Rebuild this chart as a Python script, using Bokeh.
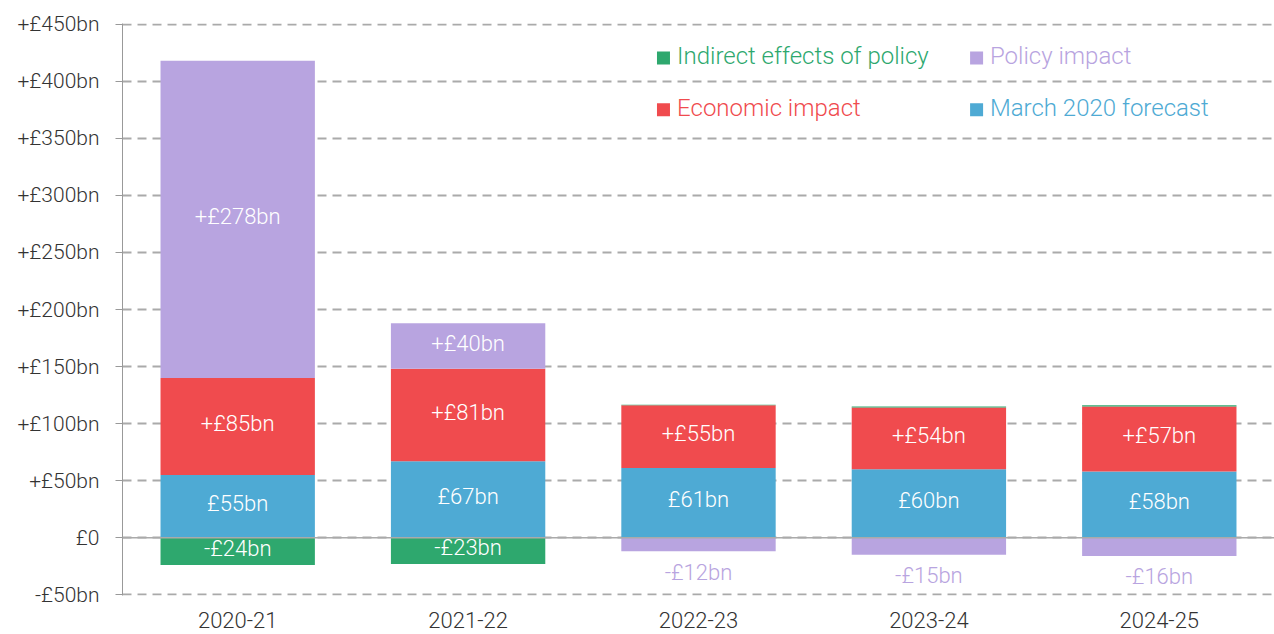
from bokeh.plotting import figure
from bokeh.models import (FactorRange, Range1d, FixedTicker, CustomJSTickFormatter,
                          Span, ColumnDataSource)
from bokeh.core.properties import value
from bokeh.embed import file_html
from bokeh.resources import INLINE

years = ["2020-21", "2021-22", "2022-23", "2023-24", "2024-25"]
march_forecast = [55, 67, 61, 60, 58]
economic_impact = [85, 81, 55, 54, 57]
policy_impact = [278, 40, -12, -15, -16]
indirect_effects = [-24, -23, 0.5, 1, 1]

series_names = ["March 2020 forecast", "Economic impact", "Policy impact", "Indirect effects of policy"]
series_values = [march_forecast, economic_impact, policy_impact, indirect_effects]
series_colors = ["#4eaad4", "#f04b4e", "#b8a4e0", "#2ea86e"]
series_plus = [False, True, True, True]

y_ticks = [-50, 0, 50, 100, 150, 200, 250, 300, 350, 400, 450]

FONT_NAME = "'Roboto Light', Roboto"
FONT = value(FONT_NAME)

p = figure(x_range=FactorRange(*years, range_padding=0), y_range=Range1d(-50.7, 450.7),
           width=1274, height=634, output_backend="svg", toolbar_location=None,
           min_border_left=122, min_border_right=0, min_border_top=23, min_border_bottom=39)
p.outline_line_color = None
p.background_fill_color = "white"

# grid
p.xgrid.grid_line_color = None
p.ygrid.grid_line_color = "#aaaaaa"
p.ygrid.grid_line_dash = "9 6"
p.ygrid.grid_line_width = 2

# axes
p.yaxis.ticker = FixedTicker(ticks=y_ticks)
p.yaxis.formatter = CustomJSTickFormatter(code="""
if (tick == 0) return "£0";
if (tick > 0) return "+£" + tick + "bn";
return "-£" + Math.abs(tick) + "bn";
""")
p.yaxis.axis_line_color = "#999999"
p.yaxis.major_tick_line_color = "#999999"
p.yaxis.major_tick_out = 7
p.yaxis.major_tick_in = 0
p.yaxis.minor_tick_line_color = None
p.yaxis.major_label_standoff = 16
p.yaxis.major_label_text_font = FONT_NAME
p.yaxis.major_label_text_font_size = "21px"
p.yaxis.major_label_text_color = "#333333"

p.xaxis.axis_line_color = None
p.xaxis.major_tick_line_color = None
p.xaxis.minor_tick_line_color = None
p.xaxis.major_label_standoff = 10
p.xaxis.major_label_text_font = FONT_NAME
p.xaxis.major_label_text_font_size = "22px"
p.xaxis.major_label_text_color = "#333333"

p.add_layout(Span(location=0, dimension="width", line_color="#aaaaaa", line_width=1.5))

# stacking: positives upward, negatives downward
pos_base = [0.0] * len(years)
neg_base = [0.0] * len(years)
label_x, label_y, label_t = [], [], []
out_x, out_y, out_t, out_c = [], [], [], []
for name, vals, col, plus in zip(series_names, series_values, series_colors, series_plus):
    bottoms, tops = [], []
    for i, v in enumerate(vals):
        if v >= 0:
            b, t = pos_base[i], pos_base[i] + v
            pos_base[i] = t
        else:
            b, t = neg_base[i] + v, neg_base[i]
            neg_base[i] = b
        bottoms.append(b)
        tops.append(t)
        if abs(v) >= 20:
            label_x.append(years[i])
            label_y.append((b + t) / 2)
            if v < 0:
                txt = "-£%dbn" % abs(v)
            else:
                txt = ("+" if plus else "") + "£%dbn" % v
            label_t.append(txt)
        elif v <= -5:
            out_x.append(years[i])
            out_y.append(b)
            out_t.append("-£%dbn" % abs(v))
            out_c.append(col)
    src = ColumnDataSource(dict(x=years, bottom=bottoms, top=tops))
    p.vbar(x="x", bottom="bottom", top="top", width=0.67, source=src,
           fill_color=col, line_color=None)

p.text(x=label_x, y=label_y, text=label_t, text_color="white", text_font=FONT,
       text_font_size="22px", text_align="center", text_baseline="middle", y_offset=-3)
p.text(x=out_x, y=out_y, text=out_t, text_color=out_c, text_font=FONT,
       text_font_size="22px", text_align="center", text_baseline="middle", y_offset=21)

# legend (manual, coloured labels)
leg_order = [3, 2, 1, 0]
leg_sq_x = [2.348, 3.707, 2.348, 3.707]
leg_tx_x = [2.407, 3.765, 2.407, 3.765]
leg_y = [422, 422, 376.5, 376.5]
for k, idx in enumerate(leg_order):
    p.scatter(x=[leg_sq_x[k]], y=[leg_y[k] - 1.5], marker="square", size=13,
              fill_color=series_colors[idx], line_color=None)
    p.text(x=[leg_tx_x[k]], y=[leg_y[k]], text=[series_names[idx]],
           text_color=series_colors[idx], text_font=FONT, text_font_size="24px",
           text_align="left", text_baseline="middle")

open("out.html", "w").write(file_html(p, INLINE))
